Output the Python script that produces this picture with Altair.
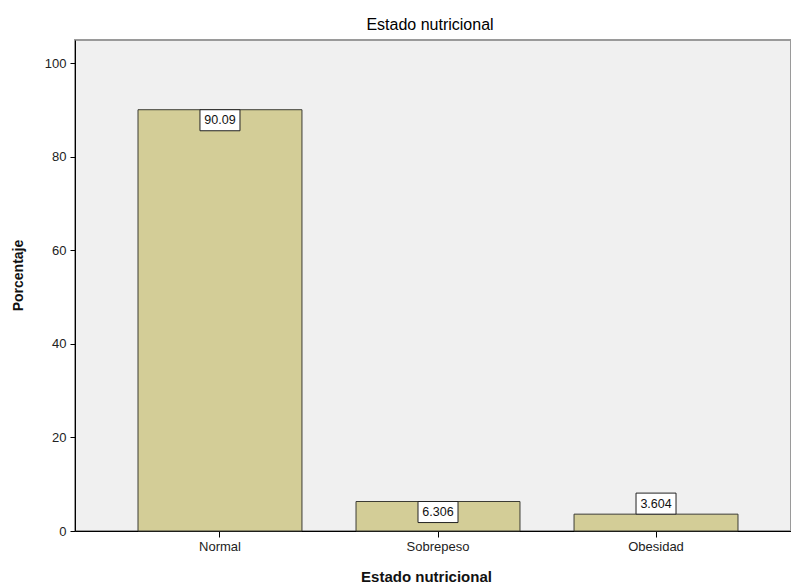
import altair as alt
import pandas as pd

categories = ["Normal", "Sobrepeso", "Obesidad"]
percentages = [90.09, 6.306, 3.604]
labels = ["90.09", "6.306", "3.604"]

df = pd.DataFrame({"cat": categories, "pct": percentages, "lab": labels})

FONT = "Liberation Sans"
xscale = alt.Scale(domain=categories, range=[0, 726], paddingInner=0.248, paddingOuter=0.289)
yscale = alt.Scale(domain=[0, 105], nice=False, zero=True)

base = alt.Chart(df)

bars = base.mark_bar(color="#d3cd97", stroke="#3c3c34", strokeWidth=1).encode(
    x=alt.X("cat:N", scale=xscale, sort=categories,
            axis=alt.Axis(title="Estado nutricional", labelAngle=0, labelFont=FONT,
                          labelFontSize=13, labelColor="#222222", labelPadding=3,
                          tickSize=6, tickColor="#000000", domainColor="#000000",
                          titleFont=FONT, titleFontSize=15, titleFontWeight="bold",
                          titleColor="#111111", titleX=351, titleY=45,
                          titleBaseline="middle", titleAnchor="middle", grid=False)),
    y=alt.Y("pct:Q", scale=yscale,
            axis=alt.Axis(title="Porcentaje", values=[0, 20, 40, 60, 80, 100],
                          labelFont=FONT, labelFontSize=13, labelColor="#222222",
                          labelPadding=4, tickSize=5, tickColor="#000000",
                          domainColor="#000000", titleFont=FONT, titleFontSize=14,
                          titleFontWeight="bold", titleColor="#111111",
                          titleX=-57, titleY=235, titleBaseline="middle", grid=False)),
)

boxed = base.transform_calculate(
    y2="datum.pct > 5 ? datum.pct - 4.5 : datum.pct + 4.5",
    ym="datum.pct > 5 ? datum.pct - 2.25 : datum.pct + 2.25",
)

boxes = boxed.mark_bar(color="#ffffff", stroke="#222222", strokeWidth=1, width=40).encode(
    x=alt.X("cat:N", scale=xscale, sort=categories),
    y=alt.Y("pct:Q", scale=yscale),
    y2="y2:Q",
)

texts = boxed.mark_text(font=FONT, fontSize=12.5, color="#111111", baseline="middle",
                        align="center").encode(
    x=alt.X("cat:N", scale=xscale, sort=categories),
    y=alt.Y("ym:Q", scale=yscale),
    text="lab:N",
)

chart = (bars + boxes + texts).properties(
    width=716, height=491,
    background="#ffffff",
    title=alt.TitleParams("Estado nutricional", font=FONT, fontSize=16,
                          fontWeight="normal", color="#000000", anchor="middle",
                          offset=7, dx=-3),
    autosize=alt.AutoSizeParams(type="none"),
    padding={"left": 75, "top": 40, "right": 0, "bottom": 53},
).configure_view(
    fill="#f0f0f0", stroke="#9a9a9a", strokeWidth=2
)

chart.save("out.html", embed_options={"renderer": "svg", "actions": False})
